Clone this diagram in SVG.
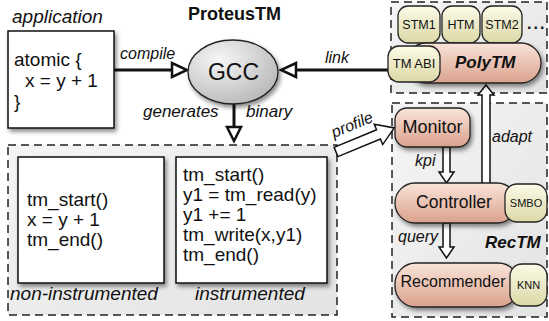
<svg xmlns="http://www.w3.org/2000/svg" width="549" height="321" viewBox="0 0 549 321">
<defs>
<linearGradient id="gRegion" x1="0" y1="0" x2="1" y2="1">
<stop offset="0" stop-color="#f5f5f5"/><stop offset="1" stop-color="#e3e3e3"/>
</linearGradient>
<linearGradient id="gPink" x1="0" y1="0" x2="0" y2="1">
<stop offset="0" stop-color="#fae4da"/><stop offset="1" stop-color="#d9a18c"/>
</linearGradient>
<linearGradient id="gYellow" x1="0" y1="0" x2="0" y2="1">
<stop offset="0" stop-color="#fcfbe8"/><stop offset="1" stop-color="#dcd8a6"/>
</linearGradient>
<radialGradient id="gGray" cx="0.35" cy="0.3" r="0.75">
<stop offset="0" stop-color="#f6f6f6"/><stop offset="1" stop-color="#b9b9b9"/>
</radialGradient>
<filter id="shadow" x="-20%" y="-20%" width="150%" height="160%">
<feDropShadow dx="2" dy="3" stdDeviation="2" flood-color="#000" flood-opacity="0.45"/>
</filter>
</defs>
<style>
.region{fill:url(#gRegion);stroke:#222;stroke-width:1.5;stroke-dasharray:8 5}
.box{fill:#fff;stroke:#111;stroke-width:1.5;filter:url(#shadow)}
.pink{fill:url(#gPink);stroke:#222;stroke-width:1.3;filter:url(#shadow)}
.yellow{fill:url(#gYellow);stroke:#222;stroke-width:1.3}
.code{font-family:"Liberation Sans",Arial,sans-serif;font-size:19px;fill:#111}
.lbl{font-family:"Liberation Sans",Arial,sans-serif;font-style:italic;font-size:16px;fill:#111}
.big{font-family:"Liberation Sans",Arial,sans-serif;font-size:19px;fill:#111}
.ttl{font-family:"Liberation Sans",Arial,sans-serif;font-weight:bold;font-size:18px;fill:#111}
.bi{font-family:"Liberation Sans",Arial,sans-serif;font-weight:bold;font-style:italic;font-size:17px;fill:#111}
.sm{font-family:"Liberation Sans",Arial,sans-serif;font-size:12.5px;fill:#111}
.line{stroke:#111;stroke-width:3;fill:none}
.head{fill:#fff;stroke:#111;stroke-width:2.5;stroke-linejoin:miter}
.hollow{fill:#fff;stroke:#111;stroke-width:1.5;stroke-linejoin:miter}
</style>

<!-- regions -->
<g id="region-binary">
<rect class="region" x="8" y="145" width="329" height="170"/>
</g>
<g id="region-polytm">
<rect class="region" x="391" y="2" width="156" height="91"/>
</g>
<g id="region-rectm">
<rect class="region" x="392" y="103" width="155" height="214"/>
</g>

<text class="lbl" x="12" y="23" style="font-size:19px">application</text>
<text class="ttl" x="188" y="20">ProteusTM</text>

<!-- connectors -->
<g id="connectors">
<line class="line" x1="114" y1="70" x2="172" y2="70"/>
<polygon class="head" points="172,63 172,77 187,70"/>
<line class="line" x1="388" y1="70" x2="296" y2="70"/>
<polygon class="head" points="296,63 296,77 281,70"/>
<line class="line" x1="234" y1="103" x2="234" y2="127"/>
<polygon class="head" points="227,127 241,127 234,141"/>
<polygon class="hollow" transform="translate(336,152) rotate(-22.5)" points="0,-5 46,-5 46,-11 63,0 46,11 46,5 0,5"/>
<polygon class="hollow" points="443,147 450,147 450,172 454,172 446.5,183 439,172 443,172"/>
<polygon class="hollow" points="443,223 450,223 450,247 454,247 446.5,258 439,247 443,247"/>
<polygon class="hollow" points="482,184 490,184 490,95 494,95 486,85 478,95 482,95"/>
<text class="lbl" x="120" y="59">compile</text>
<text class="lbl" x="325" y="63">link</text>
<text class="lbl" x="143" y="117" style="font-size:17px">generates</text>
<text class="lbl" x="246" y="117" style="font-size:17px">binary</text>
<text class="lbl" transform="translate(334,138) rotate(-22.5)">profile</text>
<text class="lbl" x="492" y="142">adapt</text>
<text class="lbl" x="415" y="166">kpi</text>
<text class="lbl" x="398" y="242">query</text>
</g>

<!-- nodes -->
<g id="application">
<rect class="box" x="8" y="31" width="106" height="97"/>
<text class="code" x="14" y="66">atomic {</text>
<text class="code" x="25" y="87">x = y + 1</text>
<text class="code" x="14" y="108">}</text>
</g>

<g id="gcc">
<ellipse cx="233" cy="72" rx="45" ry="32" fill="url(#gGray)" stroke="#222" stroke-width="1.3" filter="url(#shadow)"/>
<text x="233.5" y="80" text-anchor="middle" style="font-family:'Liberation Sans',Arial,sans-serif;font-size:23px;fill:#111">GCC</text>
</g>

<g id="non-instrumented">
<rect class="box" x="18" y="157" width="146" height="126"/>
<text class="code" x="27" y="206">tm_start()</text>
<text class="code" x="27" y="226">x = y + 1</text>
<text class="code" x="27" y="246">tm_end()</text>
<text class="lbl" x="10" y="300" style="font-size:19px">non-instrumented</text>
</g>

<g id="instrumented">
<rect class="box" x="176" y="157" width="151" height="126"/>
<text class="code" x="183" y="181">tm_start()</text>
<text class="code" x="183" y="201">y1 = tm_read(y)</text>
<text class="code" x="183" y="221">y1 += 1</text>
<text class="code" x="183" y="241">tm_write(x,y1)</text>
<text class="code" x="183" y="261">tm_end()</text>
<text class="lbl" x="195" y="300" style="font-size:19px">instrumented</text>
</g>

<g id="stm1">
<rect class="yellow" x="398" y="6" width="42" height="37" rx="10"/>
<text class="sm" x="419" y="29" text-anchor="middle">STM1</text>
</g>
<g id="htm">
<rect class="yellow" x="442" y="6" width="38" height="37" rx="10"/>
<text class="sm" x="461" y="29" text-anchor="middle">HTM</text>
</g>
<g id="stm2">
<rect class="yellow" x="482" y="6" width="40" height="37" rx="10"/>
<text class="sm" x="502" y="29" text-anchor="middle">STM2</text>
</g>
<text x="527" y="29" style="font-family:'Liberation Sans',Arial,sans-serif;font-size:16px;font-weight:bold;fill:#111;letter-spacing:2px">...</text>

<g id="polytm">
<rect class="pink" x="406" y="43" width="135" height="40" rx="20"/>
<rect class="yellow" x="388" y="46" width="52" height="36" rx="11"/>
<text class="sm" x="414" y="68" text-anchor="middle" style="font-size:13px">TM ABI</text>
<text class="bi" x="455" y="68">PolyTM</text>
</g>

<g id="monitor">
<rect class="pink" x="395" y="108" width="75" height="39" rx="12"/>
<text class="big" x="432.5" y="133" text-anchor="middle" style="font-size:18px">Monitor</text>
</g>

<g id="controller">
<rect class="pink" x="395" y="183" width="122" height="40" rx="20"/>
<rect class="yellow" x="505" y="184" width="42" height="38" rx="12"/>
<text class="big" x="454" y="208" text-anchor="middle" style="font-size:17.5px">Controller</text>
<text class="sm" x="526" y="207" text-anchor="middle" style="font-size:11px">SMBO</text>
</g>

<text class="bi" x="485" y="248">RecTM</text>

<g id="recommender">
<rect class="pink" x="395" y="263" width="124" height="44" rx="21"/>
<rect class="yellow" x="510" y="264" width="37" height="42" rx="12"/>
<text class="big" x="453" y="287" text-anchor="middle" style="font-size:16px">Recommender</text>
<text class="sm" x="528.5" y="289" text-anchor="middle" style="font-size:11px">KNN</text>
</g>
</svg>
